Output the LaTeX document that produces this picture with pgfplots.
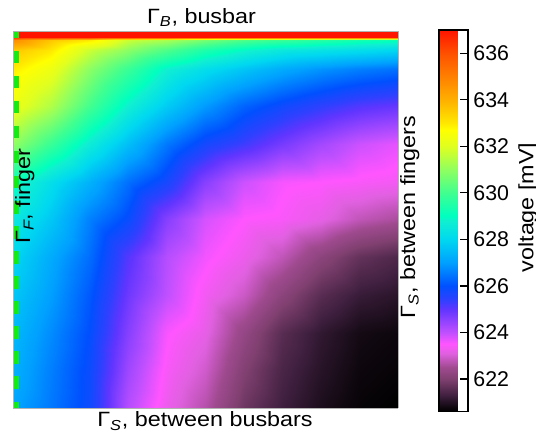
\documentclass[border=0pt]{standalone}
\usepackage{fontspec}
\setmainfont{Liberation Sans}
\usepackage{graphicx}
\usepackage{pgfplots}
\pgfplotsset{compat=1.18}
\pgfplotsset{colormap={volt}{
 rgb255(0pt)=(0,0,0)
 rgb255(2pt)=(16,8,16)
 rgb255(7pt)=(64,32,64)
 rgb255(14pt)=(128,64,112)
 rgb255(19pt)=(160,74,144)
 rgb255(25pt)=(224,96,224)
 rgb255(29pt)=(255,85,255)
 rgb255(34pt)=(192,80,255)
 rgb255(44pt)=(96,53,255)
 rgb255(48pt)=(48,64,255)
 rgb255(54pt)=(0,80,255)
 rgb255(64pt)=(0,160,255)
 rgb255(74pt)=(0,216,240)
 rgb255(82pt)=(16,240,208)
 rgb255(84pt)=(0,255,192)
 rgb255(94pt)=(64,255,144)
 rgb255(104pt)=(144,255,96)
 rgb255(114pt)=(224,255,32)
 rgb255(121pt)=(255,255,0)
 rgb255(124pt)=(255,232,0)
 rgb255(134pt)=(255,176,0)
 rgb255(144pt)=(255,128,0)
 rgb255(154pt)=(255,80,0)
 rgb255(164pt)=(255,20,0)
}}
\definecolor{fingergreen}{RGB}{20,235,20}
\newcommand\lab[1]{\scalebox{1.13}[1]{#1}}
\begin{document}
\fontsize{15.5}{18}\selectfont
\begin{tikzpicture}
\useasboundingbox (-9.75pt,-20.25pt) rectangle (392.25pt,306pt);
\begin{axis}[
 name=main, at={(0,0)}, anchor=south west,
 scale only axis, width=288.75pt, height=282.75pt,
 view={0}{90},
 xmin=0, xmax=1, ymin=0, ymax=1,
 xtick=\empty, ytick=\empty, ztick=\empty,
 axis line style={draw=gray!60, line width=0.5pt},
 colormap name=volt,
 point meta min=620.6, point meta max=637,
 clip=false,
 colorbar,
 colorbar style={
   at={(parent axis.north east)}, anchor=north west,
   xshift=22.1pt, yshift=0.75pt,
   width=21.75pt, height=286.1pt,
   ytick={622,624,...,636}, ytick pos=right,
   tick align=inside, major tick length=6pt,
   tick style={black, line width=1pt},
   yticklabel style={/pgf/number format/assume math mode=true, font=\fontsize{16}{19}\selectfont, inner sep=0pt, xshift=4pt},
   axis line style={black, line width=1.1pt},
 },
]
\addplot3[surf, shader=interp, mesh/cols=11] table {
0.0 0.0 627.1
0.1 0.0 626.5
0.2 0.0 625.8
0.3 0.0 624.1
0.4 0.0 623.25
0.5 0.0 622.7
0.6 0.0 621.79
0.7 0.0 621.28
0.8 0.0 620.92
0.9 0.0 620.68
1.0 0.0 620.6

0.0 0.1 627.3
0.1 0.1 626.59
0.2 0.1 625.84
0.3 0.1 624.35
0.4 0.1 623.4
0.5 0.1 622.95
0.6 0.1 622.04
0.7 0.1 621.41
0.8 0.1 621.04
0.9 0.1 620.76
1.0 0.1 620.68

0.0 0.2 627.45
0.1 0.2 626.75
0.2 0.2 625.95
0.3 0.2 624.6
0.4 0.2 623.55
0.5 0.2 623.18
0.6 0.2 622.32
0.7 0.2 621.57
0.8 0.2 621.14
0.9 0.2 620.84
1.0 0.2 620.76

0.0 0.3 627.7
0.1 0.3 627.0
0.2 0.3 626.1
0.3 0.3 624.86
0.4 0.3 624.0
0.5 0.3 623.35
0.6 0.3 622.9
0.7 0.3 622.18
0.8 0.3 621.57
0.9 0.3 621.21
1.0 0.3 621.07

0.0 0.4 628.0
0.1 0.4 627.2
0.2 0.4 626.35
0.3 0.4 625.1
0.4 0.4 624.1
0.5 0.4 623.6
0.6 0.4 623.26
0.7 0.4 622.8
0.8 0.4 622.18
0.9 0.4 621.68
1.0 0.4 621.46

0.0 0.5 628.5
0.1 0.5 627.7
0.2 0.5 626.6
0.3 0.5 625.9
0.4 0.5 624.6
0.5 0.5 623.83
0.6 0.5 623.5
0.7 0.5 623.42
0.8 0.5 623.18
0.9 0.5 622.8
1.0 0.5 622.6

0.0 0.6 629.1
0.1 0.6 628.2
0.2 0.6 627.3
0.3 0.6 626.4
0.4 0.6 625.7
0.5 0.6 624.6
0.6 0.6 623.9
0.7 0.6 623.57
0.8 0.6 623.5
0.9 0.6 623.42
1.0 0.6 623.34

0.0 0.7 631.0
0.1 0.7 629.87
0.2 0.7 628.63
0.3 0.7 627.54
0.4 0.7 626.5
0.5 0.7 625.73
0.6 0.7 625.28
0.7 0.7 624.77
0.8 0.7 624.3
0.9 0.7 623.9
1.0 0.7 623.7

0.0 0.8 632.3
0.1 0.8 631.4
0.2 0.8 630.01
0.3 0.8 628.77
0.4 0.8 627.77
0.5 0.8 626.94
0.6 0.8 626.24
0.7 0.8 625.8
0.8 0.8 625.43
0.9 0.8 625.11
1.0 0.8 624.94

0.0 0.9 632.95
0.1 0.9 632.3
0.2 0.9 630.93
0.3 0.9 629.87
0.4 0.9 628.77
0.5 0.9 628.17
0.6 0.9 627.66
0.7 0.9 627.2
0.8 0.9 626.85
0.9 0.9 626.59
1.0 0.9 626.41

0.0 0.95 633.6
0.1 0.95 633.0
0.2 0.95 631.73
0.3 0.95 630.93
0.4 0.95 630.16
0.5 0.95 629.44
0.6 0.95 628.9
0.7 0.95 628.5
0.8 0.95 628.33
0.9 0.95 628.17
1.0 0.95 628.0

0.0 0.975 634.75
0.1 0.975 633.6
0.2 0.975 632.97
0.3 0.975 631.73
0.4 0.975 631.3
0.5 0.975 630.68
0.6 0.975 630.16
0.7 0.975 629.87
0.8 0.975 629.59
0.9 0.975 629.3
1.0 0.975 629.17

0.0 0.983 637
0.1 0.983 637
0.2 0.983 637
0.3 0.983 637
0.4 0.983 637
0.5 0.983 637
0.6 0.983 637
0.7 0.983 637
0.8 0.983 637
0.9 0.983 637
1.0 0.983 637

0.0 1.0 637
0.1 1.0 637
0.2 1.0 637
0.3 1.0 637
0.4 1.0 637
0.5 1.0 637
0.6 1.0 637
0.7 1.0 637
0.8 1.0 637
0.9 1.0 637
1.0 1.0 637
};
\addplot3[draw=fingergreen, line width=4.5pt, dash pattern=on 9.4pt off 9.4pt, dash phase=4.1pt, line cap=butt] coordinates {(0.0078,1,637) (0.0078,0,637)};
\node[anchor=base, inner sep=0pt] at (axis description cs:0.4896,1.0204) {\lab{Γ\textsubscript{\itshape B}, busbar}};
\node[anchor=base, inner sep=0pt] at (axis description cs:0.4987,-0.0504) {\lab{Γ\textsubscript{\itshape S}, between busbars}};
\node[rotate=90, anchor=north, inner sep=0pt] at (axis description cs:1.0052,0.507) {\lab{Γ\textsubscript{\itshape S}, between fingers}};
\node[rotate=90, anchor=north, inner sep=0pt] at (axis description cs:0.0052,0.562) {\lab{Γ\textsubscript{\itshape F}, finger}};
\node[rotate=90, anchor=north, inner sep=0pt] at (axis description cs:1.3117,0.532) {\lab{voltage [mV]}};
\end{axis}
\end{tikzpicture}
\end{document}
